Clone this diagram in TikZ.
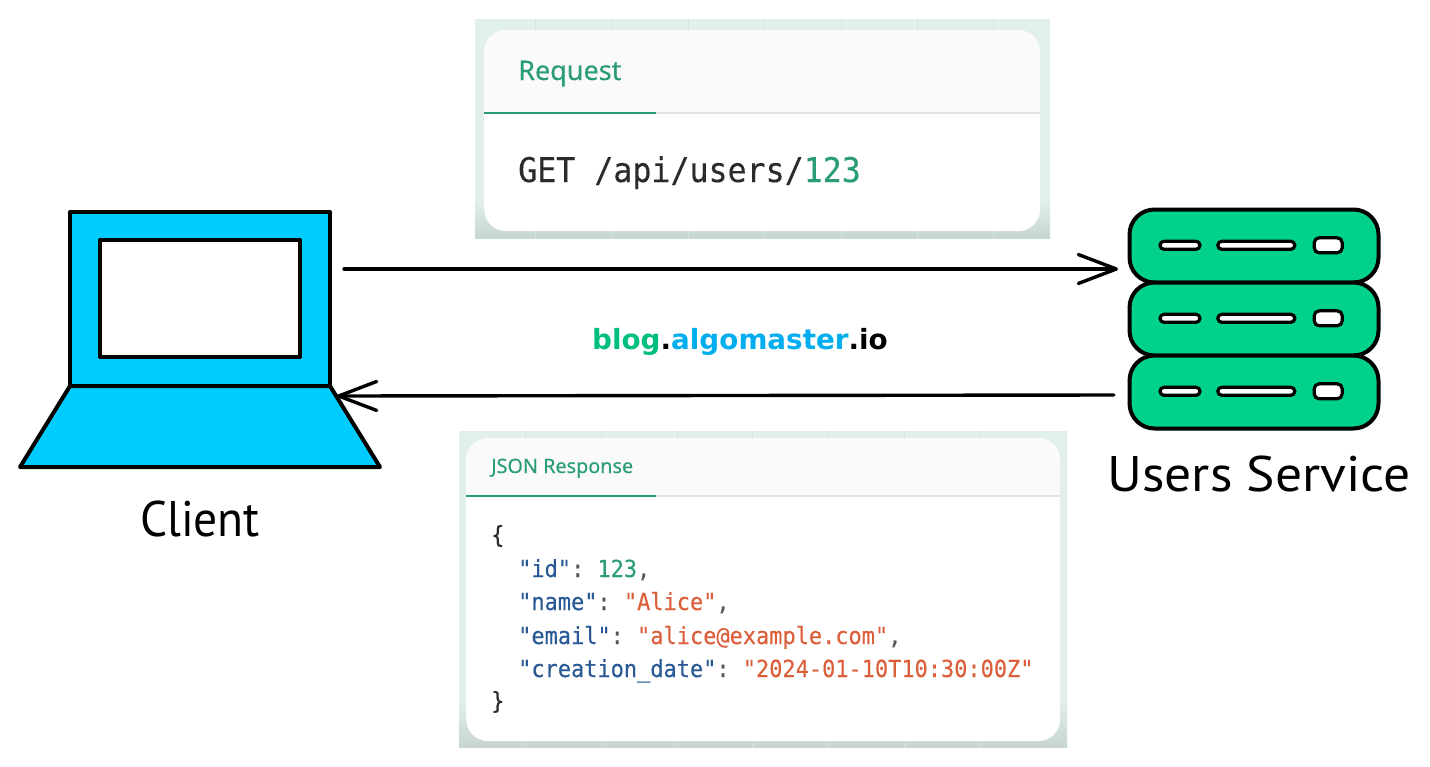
\documentclass[tikz,border=0pt]{standalone}
\usepackage{fontspec}
\setmainfont{Open Sans}
\newfontfamily\hand{PT Sans}
\newfontfamily\uifont[FakeBold=0.3]{Noto Sans}
\newfontfamily\logofont{DejaVu Sans Bold}
\setmonofont[FakeStretch=0.93,FakeBold=0.25]{DejaVu Sans Mono}
\usetikzlibrary{arrows.meta,calc}
\definecolor{sky}{HTML}{00CCFF}
\definecolor{mint}{HTML}{00D389}
\definecolor{tabgreen}{HTML}{2A9D78}
\definecolor{keyblue}{HTML}{2A5A96}
\definecolor{strred}{HTML}{DC5F3C}
\definecolor{ink}{HTML}{2B2B2B}
\definecolor{punct}{HTML}{555555}
\definecolor{halo}{HTML}{E2F0EC}
\definecolor{halodark}{HTML}{C6D5D0}
\definecolor{hair}{HTML}{E2E4E3}
\definecolor{gridl}{HTML}{D3E3DE}
\definecolor{logog}{HTML}{00BF7D}
\definecolor{logob}{HTML}{00AEEF}
\tikzset{
  x=1pt,y=-1pt,
  outl/.style={draw=black,line width=4pt,line join=round},
  laptop/.style={outl,fill=sky},
  rack/.style={outl,fill=mint,rounded corners=25pt,minimum width=249pt,minimum height=73pt,inner sep=0pt,anchor=north west},
  slot/.style={draw=black,line width=3.2pt,fill=white,inner sep=0pt,anchor=center},
  flow/.style={draw=black,line width=3.4pt,line cap=round,-{Straight Barb[length=38pt,width=29pt,line width=3.4pt,round]}},
  card/.style={fill=white,rounded corners=22pt,draw=none},
  label/.style={font=\hand\fontsize{50}{56}\selectfont,text=black,inner sep=0pt},
  code/.style={anchor=base west,inner sep=0pt,font=\ttfamily\fontsize{23.6}{26}\selectfont,text=ink},
}
\newcommand{\gridv}[3]{\foreach \xx in {#1}{\draw[gridl,line width=.8pt] (\xx,#2) -- (\xx,#3);}}
\begin{document}
\begin{tikzpicture}
\useasboundingbox (0,0) rectangle (1430,766);
\fill[white] (0,0) rectangle (1430,766);

% request card
\fill[halo] (475,19) rectangle (1050,238);
\shade[top color=halo,bottom color=halodark] (475,200) rectangle (1050,238);
\gridv{535,612,688,764,841,917,993}{19}{30}
\gridv{535,612,688,764,841,917,993}{231}{238}
\node[card,minimum width=556pt,minimum height=201pt,inner sep=0pt,anchor=north west] (reqcard) at (484,30) {};
\begin{scope}
\clip[rounded corners=22pt] (484,30) rectangle (1040,231);
\fill[white!98!black] (484,30) rectangle (1040,112);
\end{scope}
\coordinate (reqL) at (484,113); \coordinate (reqM) at (656,113); \coordinate (reqR) at (1040,113);
\draw[hair,line width=2pt] (reqM) -- (reqR);
\draw[tabgreen,line width=2pt] (reqL) -- (reqM);
\node[anchor=base west,inner sep=0pt,text=tabgreen,font=\uifont\fontsize{27}{30}\selectfont] (reqtitle) at (518,80) {Request};
\node[code,font=\ttfamily\fontsize{34}{38}\selectfont] (reqtext) at (518,182) {GET /api/users/\textcolor{tabgreen}{123}};

% response card
\fill[halo] (459,431) rectangle (1067,747);
\shade[top color=halo,bottom color=halodark] (459,700) rectangle (1067,747);
\gridv{525,601,677,752,828,904,980}{431}{438}
\gridv{525,601,677,752,828,904,980}{741}{747}
\node[card,minimum width=594pt,minimum height=303pt,inner sep=0pt,anchor=north west] (respcard) at (466,438) {};
\begin{scope}
\clip[rounded corners=22pt] (466,438) rectangle (1060,741);
\fill[white!98!black] (466,438) rectangle (1060,495);
\end{scope}
\coordinate (respL) at (466,496); \coordinate (respM) at (656,496); \coordinate (respR) at (1060,496);
\draw[hair,line width=2pt] (respM) -- (respR);
\draw[tabgreen,line width=2pt] (respL) -- (respM);
\node[anchor=base west,inner sep=0pt,text=tabgreen,font=\uifont\fontsize{19.8}{22}\selectfont] (resptitle) at (491,473) {JSON Response};
\node[code] (l1) at (491,543) {\{};
\node[code] (l2) at (518,577) {\textcolor{keyblue}{"id"}\textcolor{punct}{:} \textcolor{tabgreen}{123}\textcolor{punct}{,}};
\node[code] (l3) at (518,610) {\textcolor{keyblue}{"name"}\textcolor{punct}{:} \textcolor{strred}{"Alice"}\textcolor{punct}{,}};
\node[code] (l4) at (518,644) {\textcolor{keyblue}{"email"}\textcolor{punct}{:} \textcolor{strred}{"alice@example.com"}\textcolor{punct}{,}};
\node[code] (l5) at (518,677) {\textcolor{keyblue}{"creation\_date"}\textcolor{punct}{:} \textcolor{strred}{"2024-01-10T10:30:00Z"}};
\node[code] (l6) at (491,709) {\}};

% laptop
\draw[laptop] (70,386) -- (330,386) -- (380,467) -- (20,467) -- cycle;
\node[laptop,minimum width=260pt,minimum height=174pt,inner sep=0pt,anchor=north west] (lid) at (68,210) {};
\node[outl,fill=white,minimum width=200pt,minimum height=117pt,inner sep=0pt,anchor=north west] (screen) at (98,238) {};
\node[label,anchor=base] (client) at (200,536) {\addfontfeature{FakeStretch=0.95}Client};

% server
\foreach \n/\y in {1/207.5,2/280.5,3/353.5}{
  \node[rack] (rack\n) at (1127.5,\y) {};
  \node[slot,rounded corners=4pt,minimum width=40pt,minimum height=8pt] (s\n a) at ($(rack\n.north west)+(52.5,37.8)$) {};
  \node[slot,rounded corners=4pt,minimum width=77pt,minimum height=8pt] (s\n b) at ($(rack\n.north west)+(128.8,37.8)$) {};
  \node[slot,rounded corners=5pt,minimum width=28pt,minimum height=15pt] (s\n c) at ($(rack\n.north west)+(200.7,37.8)$) {};
}
\node[label,anchor=base] (svc) at (1259,491) {\addfontfeature{FakeStretch=1.07}Users Service};

% arrows
\coordinate (outStart) at (344,269);
\coordinate (outEnd) at (1118,269);
\coordinate (backStart) at (1114,395);
\coordinate (backEnd) at (337,396);
\draw[flow] (outStart) -- (outEnd);
\draw[flow] (backStart) -- (backEnd);

% logo
\node[anchor=base,inner sep=0pt,font=\logofont\fontsize{27.8}{34}\selectfont] (logo) at (740,349.5)
  {\textcolor{logog}{blog}\textcolor{black}{.}\textcolor{logob}{algomaster}\textcolor{black}{.io}};
\end{tikzpicture}
\end{document}
